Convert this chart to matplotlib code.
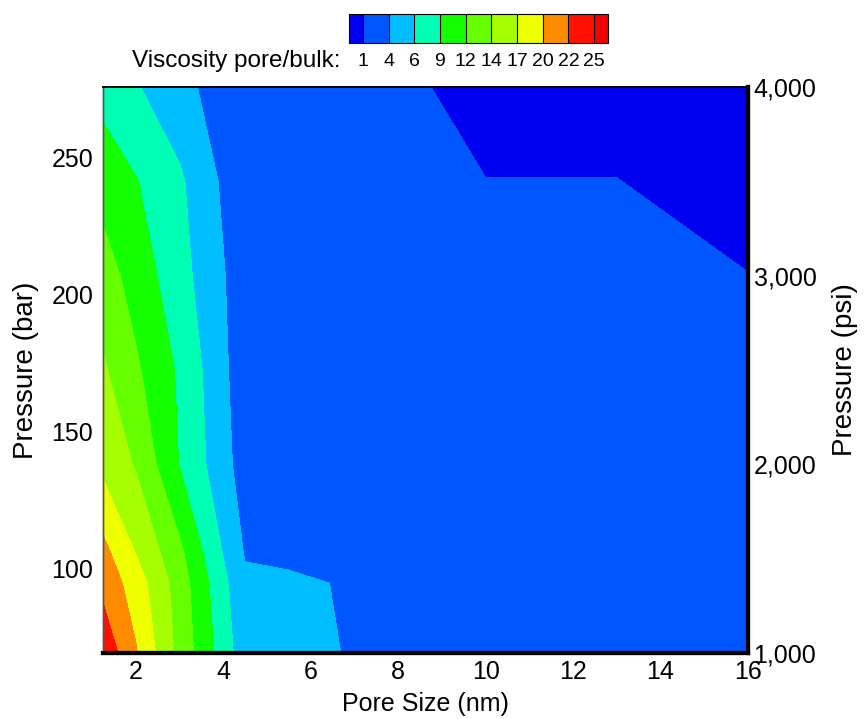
import numpy as np
import matplotlib
matplotlib.use("Agg")
import matplotlib.pyplot as plt
from matplotlib.ticker import FuncFormatter

plt.rcParams['font.family'] = ['Liberation Sans', 'DejaVu Sans']

# data
pore_size = [1.25, 2, 3, 4, 4.5, 5.5, 7, 10, 13, 16]          # nm
pressure_psi = [1000, 1370, 1530, 2000, 2500, 3000, 3500, 4000]
viscosity_ratio = [
    [24.5, 19.9, 13.5, 7.8, 4.6, 4.3, 3.5, 2.6, 2.0, 1.7],
    [21.5, 18.4, 13.1, 7.0, 4.2, 4.1, 3.4, 2.4, 1.9, 1.6],
    [20.5, 16.95, 12.27, 6.2, 3.45, 3.1, 2.8, 2.2, 1.8, 1.5],
    [16.3, 14.1, 8.9, 4.65, 2.3, 2.1, 1.9, 1.6, 1.4, 1.3],
    [14.7, 12.08, 8.6, 4.24, 1.87, 1.75, 1.6, 1.4, 1.25, 1.15],
    [12.9, 10.56, 7.36, 3.84, 2.0, 1.7, 1.5, 1.25, 1.15, 1.02],
    [10.6, 9.15, 6.76, 3.26, 2.2, 1.8, 1.5, 1.02, 1.02, 0.5],
    [8.05, 6.55, 4.55, 2.4, 2.2, 2.0, 1.7, 0.5, 0.5, 0.45],
]
level_labels = ['1', '4', '6', '9', '12', '14', '17', '20', '22', '25']
level_colors = ['#0000F0', '#0057FF', '#00BEFF', '#00FFB4', '#14FF00', '#66FF00',
                '#A6FF00', '#EEFF00', '#FF8C00', '#FF1000', '#F50000']

PSI_TO_BAR = 0.0689476
levels = np.linspace(1, 25, 10)

X, P = np.meshgrid(pore_size, np.array(pressure_psi) * PSI_TO_BAR)
Z = np.array(viscosity_ratio)

fig = plt.figure(figsize=(8.65, 7.19), dpi=100)
ax = fig.add_axes([103 / 865, 1 - 653 / 719, 645 / 865, 566 / 719])

cf = ax.contourf(X, P, Z, levels=levels, colors=level_colors, extend='both')
ax.set_xlim(1.25, 16)
ax.set_ylim(1000 * PSI_TO_BAR, 4000 * PSI_TO_BAR)
ax.set_xticks([2, 4, 6, 8, 10, 12, 14, 16])
ax.set_yticks([100, 150, 200, 250])
ax.tick_params(axis='x', length=0, labelsize=18, pad=5)
ax.tick_params(axis='y', length=0, labelsize=18, pad=7)
ax.set_xlabel('Pore Size (nm)', fontsize=18)
ax.set_ylabel('Pressure (bar)', fontsize=20)
ax.xaxis.set_label_coords(0.5, -(692 - 653) / 566)
ax.yaxis.set_label_coords((39 - 103) / 645, 0.5)

ax2 = ax.twinx()
ax2.set_ylim(1000, 4000)
ax2.set_yticks([1000, 2000, 3000, 4000])
ax2.yaxis.set_major_formatter(FuncFormatter(lambda v, p: f'{int(v):,}'))
ax2.tick_params(length=0, labelsize=18, pad=4)
ax2.set_ylabel('Pressure (psi)', fontsize=20)
ax2.yaxis.set_label_coords((832 - 103) / 645, 0.5)

for a in (ax, ax2):
    a.spines['left'].set_linewidth(1)
    a.spines['left'].set_color('#555555')
    a.spines['top'].set_linewidth(1.2)
    a.spines['bottom'].set_linewidth(3)
    a.spines['right'].set_linewidth(3)

cax = fig.add_axes([349 / 865, 1 - 43 / 719, 259 / 865, 29 / 719])
cb = fig.colorbar(cf, cax=cax, orientation='horizontal', ticks=levels,
                  drawedges=True, extendrect=True, extendfrac=0.06)
cb.set_ticklabels(level_labels)
cb.ax.tick_params(length=0, labelsize=14, pad=7)
cb.outline.set_linewidth(0.8)
cb.dividers.set_linewidth(0.8)

fig.text(340 / 865, 1 - 61 / 719, 'Viscosity pore/bulk:', ha='right', va='center', fontsize=17.5)

fig.savefig('out.png', dpi=100)
